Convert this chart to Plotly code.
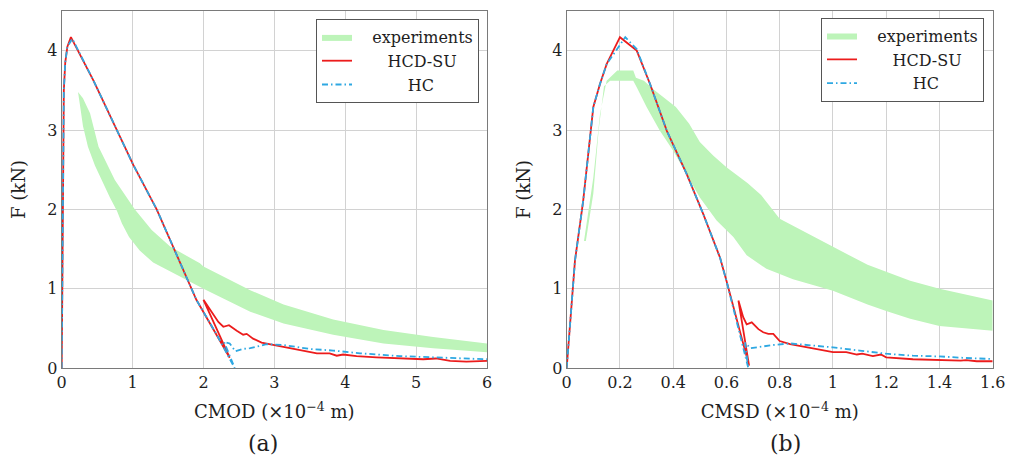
import plotly.graph_objects as go

# ---------------- data: panel (a) CMOD ----------------
a_band_up_x = [0.23, 0.30, 0.40, 0.52, 0.75, 1.03, 1.27, 1.53, 1.95, 2.0, 2.66, 3.13, 3.83, 4.54, 5.24, 6.0]
a_band_up_y = [3.48, 3.40, 3.21, 2.79, 2.37, 2.00, 1.74, 1.53, 1.32, 1.28, 0.98, 0.80, 0.61, 0.48, 0.39, 0.31]
a_band_lo_x = [0.23, 0.26, 0.30, 0.37, 0.47, 0.56, 0.68, 0.78, 0.85, 0.95, 1.10, 1.29, 1.62, 2.0,
               2.66, 3.13, 3.83, 4.54, 5.24, 6.0]
a_band_lo_y = [3.48, 3.30, 3.05, 2.79, 2.55, 2.37, 2.15, 1.98, 1.82, 1.65, 1.48, 1.33, 1.18, 1.00,
               0.71, 0.56, 0.42, 0.31, 0.25, 0.20]

a_red_x = [0, 0.01, 0.02, 0.03, 0.05, 0.08, 0.13, 0.45, 1.01, 1.34, 1.9, 2.2, 2.37, 2.0, 2.1, 2.21,
           2.28, 2.36, 2.47, 2.56, 2.61, 2.70, 2.82, 3.0, 3.13, 3.36, 3.6, 3.78, 3.88, 3.97, 4.16,
           4.44, 4.77, 5.10, 5.28, 5.48, 5.71, 6.0]
a_red_y = [0, 1.5, 3.0, 3.5, 3.85, 4.05, 4.17, 3.62, 2.56, 2.0, 0.86, 0.40, 0.13, 0.86, 0.72, 0.58,
           0.52, 0.54, 0.47, 0.42, 0.43, 0.37, 0.32, 0.29, 0.27, 0.23, 0.185, 0.185, 0.155, 0.17, 0.15,
           0.135, 0.12, 0.11, 0.12, 0.09, 0.08, 0.09]

a_blue_x = [0, 0.01, 0.02, 0.03, 0.05, 0.08, 0.15, 0.45, 1.01, 1.34, 1.9, 2.2, 2.44, 2.29, 2.37,
            2.45, 2.55, 2.66, 2.89, 3.13, 3.50, 3.83, 4.21, 4.77, 5.24, 6.0]
a_blue_y = [0, 1.5, 3.0, 3.5, 3.85, 4.05, 4.15, 3.62, 2.56, 2.0, 0.86, 0.40, 0.0, 0.33, 0.31,
            0.21, 0.24, 0.25, 0.30, 0.29, 0.24, 0.22, 0.185, 0.15, 0.135, 0.11]

# ---------------- data: panel (b) CMSD ----------------
b_band_up_x = [0.065, 0.10, 0.125, 0.15, 0.19, 0.25, 0.26, 0.29, 0.33, 0.41, 0.46, 0.50, 0.55, 0.60,
               0.68, 0.73, 0.80, 0.98, 1.13, 1.29, 1.40, 1.60]
b_band_up_y = [1.6, 2.4, 3.2, 3.62, 3.75, 3.75, 3.66, 3.62, 3.50, 3.29, 3.08, 2.85, 2.68, 2.53,
               2.33, 2.18, 1.88, 1.56, 1.30, 1.10, 1.00, 0.85]
b_band_lo_x = [0.072, 0.10, 0.12, 0.14, 0.163, 0.25, 0.263, 0.30, 0.35, 0.40, 0.45, 0.50, 0.563,
               0.626, 0.676, 0.75, 0.85, 1.0, 1.13, 1.20, 1.29, 1.40, 1.60]
b_band_lo_y = [1.6, 2.2, 3.0, 3.55, 3.62, 3.62, 3.54, 3.29, 2.99, 2.74, 2.45, 2.15, 1.86,
               1.65, 1.42, 1.25, 1.12, 0.975, 0.80, 0.72, 0.62, 0.53, 0.47]

b_red_x = [0, 0.031, 0.062, 0.0875, 0.10, 0.125, 0.15, 0.20, 0.263, 0.313, 0.376, 0.45, 0.513, 0.576,
           0.60, 0.685, 0.645, 0.663, 0.676, 0.695, 0.72, 0.738, 0.757, 0.776, 0.80, 0.839, 0.914,
           1.0, 1.05, 1.09, 1.11, 1.15, 1.18, 1.20, 1.30, 1.40, 1.48, 1.50, 1.54, 1.60]
b_red_y = [0, 1.35, 2.11, 2.87, 3.29, 3.58, 3.83, 4.17, 4.0, 3.58, 2.99, 2.45, 1.94, 1.39,
           1.10, 0.03, 0.85, 0.64, 0.55, 0.575, 0.49, 0.45, 0.43, 0.43, 0.34, 0.30, 0.25,
           0.20, 0.20, 0.17, 0.18, 0.15, 0.17, 0.135, 0.11, 0.10, 0.092, 0.10, 0.085, 0.085]

b_blue_x = [0, 0.031, 0.062, 0.0875, 0.10, 0.125, 0.15, 0.22, 0.263, 0.313, 0.376, 0.45, 0.513, 0.576,
            0.60, 0.682, 0.67, 0.69, 0.726, 0.776, 0.839, 0.914, 1.0, 1.10, 1.20, 1.30, 1.40, 1.50, 1.60]
b_blue_y = [0, 1.35, 2.11, 2.87, 3.29, 3.58, 3.83, 4.17, 4.02, 3.58, 2.99, 2.45, 1.94, 1.39,
            1.10, 0.0, 0.32, 0.25, 0.27, 0.29, 0.31, 0.29, 0.26, 0.22, 0.18, 0.155, 0.146, 0.126, 0.113]

# ---------------- labels ----------------
NB = "\u00a0"
series_names = [NB * 3 + "experiments", NB * 6 + "HCD-SU", NB * 10 + "HC"]
a_xticks = [0, 1, 2, 3, 4, 5, 6]
b_xticks = [0, 0.2, 0.4, 0.6, 0.8, 1, 1.2, 1.4, 1.6]
b_xticklabels = ["0", "0.2", "0.4", "0.6", "0.8", "1", "1.2", "1.4", "1.6"]
yticks = [0, 1, 2, 3, 4]

FONT = "DejaVu Serif"
GREEN = "#bdf4b9"
RED = "#ec1c1c"
BLUE = "#2ea8e2"

fig = go.Figure()


def add_panel(bux, buy, blx, bly, rx, ry, cx, cy, xa, ya, leg):
    fig.add_trace(go.Scatter(
        x=bux + blx[::-1], y=buy + bly[::-1], fill="toself", fillcolor=GREEN,
        mode="lines", line=dict(width=0, color=GREEN), name=series_names[0],
        xaxis=xa, yaxis=ya, legend=leg, hoverinfo="skip"))
    fig.add_trace(go.Scatter(
        x=rx, y=ry, mode="lines", line=dict(color=RED, width=1.8),
        name=series_names[1], xaxis=xa, yaxis=ya, legend=leg))
    fig.add_trace(go.Scatter(
        x=cx, y=cy, mode="lines", line=dict(color=BLUE, width=1.8, dash="6px,3px,1.5px,3px"),
        name=series_names[2], xaxis=xa, yaxis=ya, legend=leg))


add_panel(a_band_up_x, a_band_up_y, a_band_lo_x, a_band_lo_y, a_red_x, a_red_y,
          a_blue_x, a_blue_y, "x", "y", "legend")
add_panel(b_band_up_x, b_band_up_y, b_band_lo_x, b_band_lo_y, b_red_x, b_red_y,
          b_blue_x, b_blue_y, "x2", "y2", "legend2")

W, H = 1013, 462
TXT = "#1e1e1e"
axis_common = dict(showline=True, mirror=True, linecolor="#7a7a7a", linewidth=1.2,
                   showgrid=True, gridcolor="#d2d2d2", gridwidth=1, zeroline=False,
                   ticks="", automargin=False,
                   tickfont=dict(family=FONT, size=16, color=TXT),
                   title_font=dict(family=FONT, size=18, color=TXT))
ydom = [1 - 368 / H, 1 - 11 / H]

legend_common = dict(xanchor="right", yanchor="top", bgcolor="white", bordercolor="#555",
                     borderwidth=1, font=dict(family=FONT, size=16, color=TXT),
                     itemwidth=30, tracegroupgap=0)

fig.update_layout(
    width=W, height=H, margin=dict(l=0, r=0, t=0, b=0),
    paper_bgcolor="white", plot_bgcolor="white",
    font=dict(family=FONT, size=16, color=TXT),
    xaxis=dict(domain=[61.7 / W, 487 / W], range=[0, 6], tickvals=a_xticks,
               title=dict(text="CMOD (×10<sup>−4</sup> m)", standoff=14), anchor="y", **axis_common),
    yaxis=dict(domain=ydom, range=[0, 4.5], tickvals=yticks,
               title=dict(text="F (kN)", standoff=16), anchor="x", **axis_common),
    xaxis2=dict(domain=[566.7 / W, 992.7 / W], range=[0, 1.6], tickvals=b_xticks,
                ticktext=b_xticklabels,
                title=dict(text="CMSD (×10<sup>−4</sup> m)", standoff=14), anchor="y2", **axis_common),
    yaxis2=dict(domain=ydom, range=[0, 4.5], tickvals=yticks,
                title=dict(text="F (kN)", standoff=16), anchor="x2", **axis_common),
    legend=dict(x=479 / W, y=1 - 19 / H, **legend_common),
    legend2=dict(x=984 / W, y=1 - 17.7 / H, **legend_common),
    annotations=[
        dict(text="(a)", x=263 / W, y=1 - 443 / H, xref="paper", yref="paper",
             xanchor="center", yanchor="middle",
             showarrow=False, font=dict(family=FONT, size=22, color=TXT)),
        dict(text="(b)", x=785 / W, y=1 - 443 / H, xref="paper", yref="paper",
             xanchor="center", yanchor="middle",
             showarrow=False, font=dict(family=FONT, size=22, color=TXT)),
    ],
)

fig.write_html("out.html", config={"displayModeBar": False},
               post_script="document.body.style.margin='0px';document.body.style.overflow='hidden';")
